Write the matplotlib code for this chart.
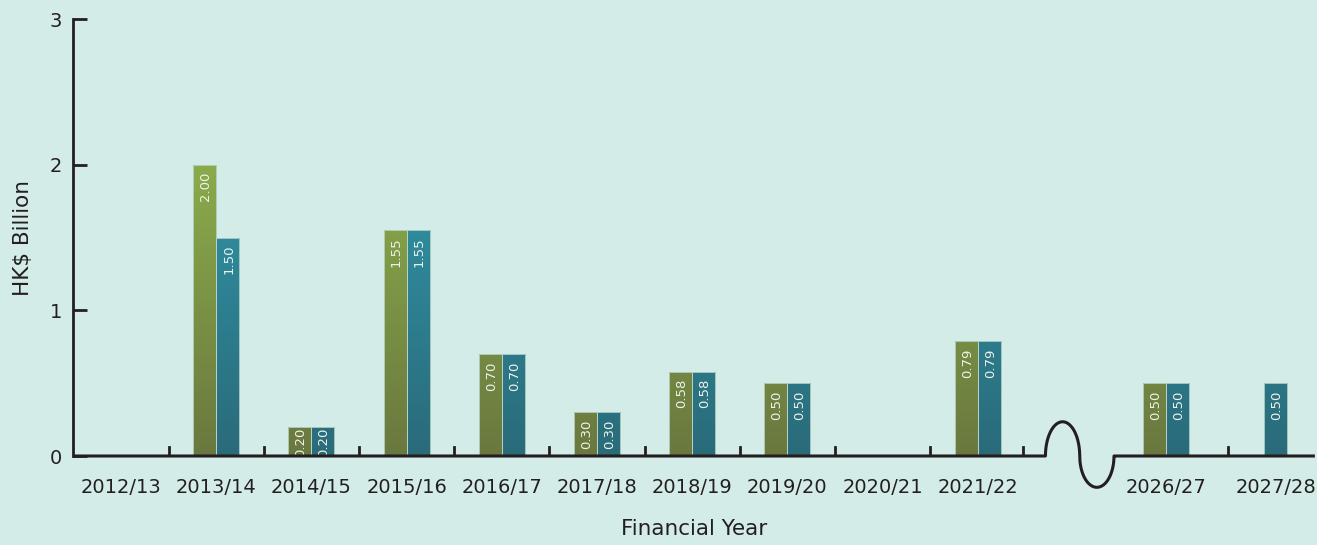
import matplotlib.pyplot as plt
import numpy as np
from matplotlib.colors import LinearSegmentedColormap

plt.rcParams['font.family'] = ['DejaVu Sans']

years = ["2012/13", "2013/14", "2014/15", "2015/16", "2016/17", "2017/18",
         "2018/19", "2019/20", "2020/21", "2021/22", "2026/27", "2027/28"]
green_vals = [0, 2.00, 0.20, 1.55, 0.70, 0.30, 0.58, 0.50, 0, 0.79, 0.50, None]
teal_vals = [0, 1.50, 0.20, 1.55, 0.70, 0.30, 0.58, 0.50, 0, 0.79, 0.50, 0.50]

# x position of each category (gap left for the axis break)
pos = [0, 1, 2, 3, 4, 5, 6, 7, 8, 9, 10.98, 12.13]
bounds = [0.5, 1.5, 2.5, 3.5, 4.5, 5.5, 6.5, 7.5, 8.5, 9.47, 11.63]

bg = "#d4ece8"
ink = "#231f20"
green_cmap = LinearSegmentedColormap.from_list("g", ["#6a783f", "#8aab4b"])
teal_cmap = LinearSegmentedColormap.from_list("t", ["#2a6b7a", "#3093a6"])

fig = plt.figure(figsize=(13.17, 5.45), dpi=100, facecolor=bg)
ax = fig.add_axes([0.0554, 0.1633, 0.943, 0.8018])
ax.set_facecolor(bg)

w = 0.242
grad = np.linspace(0, 1, 256).reshape(-1, 1)


def gbar(x, h, cmap):
    b = ax.bar(x, h, width=w, color="none", edgecolor="#b9d6c8", linewidth=0.6, zorder=3)[0]
    im = ax.imshow(grad, cmap=cmap, origin="lower", aspect="auto",
                   extent=[x - w / 2, x + w / 2, 0, 2.0], zorder=2)
    im.set_clim(0, 1)
    im.set_clip_path(b)
    off = 0.05 if h > 0.25 else 0.008
    ax.text(x + 0.01, h - off, f"{h:.2f}", rotation=90, ha="center", va="top",
            color="#eef3ea", fontsize=9.5, zorder=4)


for i, p in enumerate(pos):
    g = green_vals[i]
    t = teal_vals[i]
    if g is None:
        if t:
            gbar(p, t, teal_cmap)
        continue
    if g:
        gbar(p - w / 2, g, green_cmap)
    if t:
        gbar(p + w / 2, t, teal_cmap)

ax.set_xlim(-0.504, 12.54)
ax.set_ylim(0, 3)

for s in ["top", "right", "bottom"]:
    ax.spines[s].set_visible(False)
ax.spines["left"].set_linewidth(2)
ax.spines["left"].set_color(ink)

# x axis with break squiggle (two half-ellipse lobes)
xa, xb = 9.71, 10.43
r = (xb - xa) / 4
th1 = np.linspace(np.pi, 0, 200)
th2 = np.linspace(np.pi, 2 * np.pi, 200)
sx = np.concatenate([xa + r + r * np.cos(th1), xa + 3 * r + r * np.cos(th2)])
sy = np.concatenate([0.235 * np.sin(th1), 0.215 * np.sin(th2)])
ax.plot(np.concatenate([[-0.504], sx, [12.54]]), np.concatenate([[0], sy, [0]]),
        color=ink, lw=2.2, clip_on=False, zorder=5, solid_capstyle="butt")
for b in bounds:
    ax.plot([b, b], [0, 0.06], color=ink, lw=2, zorder=5)

ax.set_yticks([0, 1, 2, 3])
ax.tick_params(axis="y", direction="in", length=10, width=2, color=ink,
               labelsize=14, labelcolor=ink, pad=8)
ax.set_xticks(pos)
ax.set_xticklabels(years)
ax.tick_params(axis="x", length=0, labelsize=14, labelcolor=ink, pad=16)

ax.set_ylabel("HK$ Billion", fontsize=15.5, color=ink, labelpad=12)
ax.set_xlabel("Financial Year", fontsize=15.5, color=ink, labelpad=16)

fig.savefig("out.png", dpi=100, facecolor=bg)
